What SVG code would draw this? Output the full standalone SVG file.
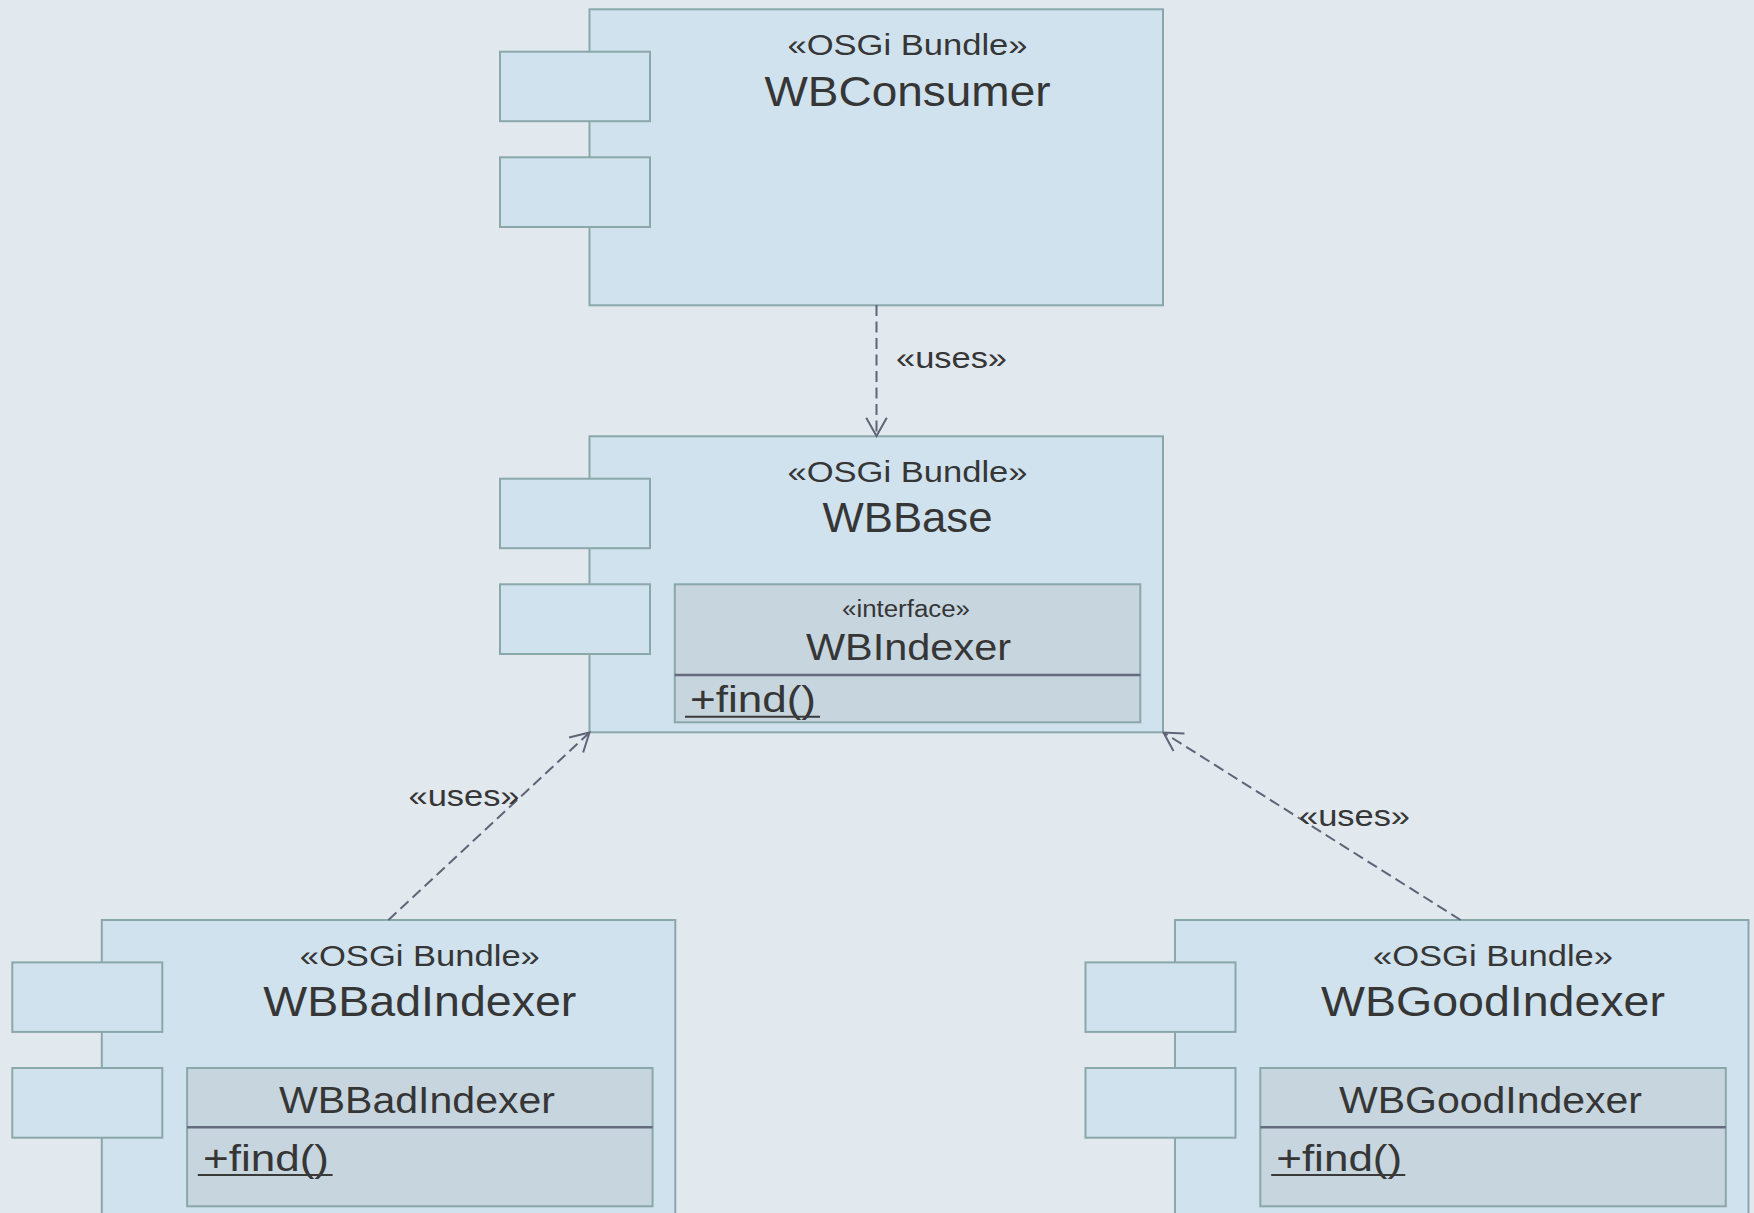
<svg xmlns="http://www.w3.org/2000/svg" width="1754" height="1213" viewBox="0 0 1754 1213">
  <style>
    .bundle { fill: #d0e2ed; stroke: #8aa7aa; stroke-width: 2; }
    .port { fill: #d0e2ed; stroke: #8aa7aa; stroke-width: 2; }
    .cls { fill: #c6d5de; stroke: #8aa7aa; stroke-width: 2; }
    .div { stroke: #646b7c; stroke-width: 2.5; }
    .ul { stroke: #3a3a3a; stroke-width: 2; }
    .t { font-family: "Liberation Sans", Arial, sans-serif; fill: #363636; }
    .stereo { font-size: 30px; text-anchor: middle; }
    .name { font-size: 43px; text-anchor: middle; }
    .cname { font-size: 36px; text-anchor: middle; }
    .iface { font-size: 23px; text-anchor: middle; }
    .op { font-size: 36px; }
    .lbl { font-size: 30px; }
    .dep { fill: none; stroke: #5f6577; stroke-width: 2; stroke-dasharray: 11 5.5; }
  </style>
  <defs>
    <marker id="open" markerUnits="userSpaceOnUse" viewBox="-20 -12 22 24" refX="0" refY="0" markerWidth="22" markerHeight="24" orient="auto">
      <path d="M-18.3,-10.3 L0,0 L-18.3,10.3" fill="none" stroke="#5f6577" stroke-width="2"/>
    </marker>
  </defs>

  <rect width="1754" height="1213" fill="#e1e8ee"/>

  <!-- WBConsumer bundle -->
  <g id="wbconsumer" transform="translate(589.5,9.3)">
    <rect class="bundle" x="0" y="0" width="573.5" height="296"/>
    <rect class="port" x="-89.5" y="42.4" width="150" height="69.5"/>
    <rect class="port" x="-89.5" y="148" width="150" height="69.7"/>
    <text class="t stereo" x="318" y="46" textLength="240" lengthAdjust="spacingAndGlyphs">«OSGi Bundle»</text>
    <text class="t name" x="318" y="96.5" textLength="286" lengthAdjust="spacingAndGlyphs">WBConsumer</text>
  </g>

  <!-- WBBase bundle with the WBIndexer interface -->
  <g id="wbbase" transform="translate(589.5,436.3)">
    <rect class="bundle" x="0" y="0" width="573.5" height="296"/>
    <rect class="port" x="-89.5" y="42.4" width="150" height="69.5"/>
    <rect class="port" x="-89.5" y="148" width="150" height="69.7"/>
    <text class="t stereo" x="318" y="46" textLength="240" lengthAdjust="spacingAndGlyphs">«OSGi Bundle»</text>
    <text class="t name" x="318" y="96" textLength="170" lengthAdjust="spacingAndGlyphs">WBBase</text>
    <g id="wbindexer">
      <rect class="cls" x="85.3" y="148" width="465.5" height="138"/>
      <line class="div" x1="85.3" y1="238.7" x2="550.8" y2="238.7"/>
      <text class="t iface" x="316.5" y="180.6" textLength="128" lengthAdjust="spacingAndGlyphs">«interface»</text>
      <text class="t cname" x="319" y="223.5" textLength="205" lengthAdjust="spacingAndGlyphs">WBIndexer</text>
      <text class="t op" x="100.5" y="275.4" textLength="126" lengthAdjust="spacingAndGlyphs">+find()</text>
      <line class="ul" x1="95.5" y1="280.4" x2="230.5" y2="280.4"/>
    </g>
  </g>

  <!-- WBBadIndexer bundle -->
  <g id="wbbadindexer" transform="translate(101.8,920)">
    <rect class="bundle" x="0" y="0" width="573.5" height="310"/>
    <rect class="port" x="-89.5" y="42.4" width="150" height="69.5"/>
    <rect class="port" x="-89.5" y="148" width="150" height="69.7"/>
    <text class="t stereo" x="318" y="46.3" textLength="240" lengthAdjust="spacingAndGlyphs">«OSGi Bundle»</text>
    <text class="t name" x="318" y="96" textLength="313" lengthAdjust="spacingAndGlyphs">WBBadIndexer</text>
    <g id="wbbadindexer-class">
      <rect class="cls" x="85.3" y="148" width="465.5" height="138.3"/>
      <line class="div" x1="85.3" y1="207.2" x2="550.8" y2="207.2"/>
      <text class="t cname" x="315.2" y="192.7" textLength="276" lengthAdjust="spacingAndGlyphs">WBBadIndexer</text>
      <text class="t op" x="101.2" y="250.7" textLength="126" lengthAdjust="spacingAndGlyphs">+find()</text>
      <line class="ul" x1="96" y1="255" x2="230.8" y2="255"/>
    </g>
  </g>

  <!-- WBGoodIndexer bundle -->
  <g id="wbgoodindexer" transform="translate(1175,920)">
    <rect class="bundle" x="0" y="0" width="573.5" height="310"/>
    <rect class="port" x="-89.5" y="42.4" width="150" height="69.5"/>
    <rect class="port" x="-89.5" y="148" width="150" height="69.7"/>
    <text class="t stereo" x="318" y="46.3" textLength="240" lengthAdjust="spacingAndGlyphs">«OSGi Bundle»</text>
    <text class="t name" x="318" y="96" textLength="344" lengthAdjust="spacingAndGlyphs">WBGoodIndexer</text>
    <g id="wbgoodindexer-class">
      <rect class="cls" x="85.3" y="148" width="465.5" height="138.3"/>
      <line class="div" x1="85.3" y1="207.2" x2="550.8" y2="207.2"/>
      <text class="t cname" x="315.5" y="192.7" textLength="303" lengthAdjust="spacingAndGlyphs">WBGoodIndexer</text>
      <text class="t op" x="101.2" y="250.7" textLength="126" lengthAdjust="spacingAndGlyphs">+find()</text>
      <line class="ul" x1="96.2" y1="255" x2="230.3" y2="255"/>
    </g>
  </g>

  <!-- «uses» dependencies -->
  <g id="connectors">
    <path class="dep" d="M876.5,305 L876.5,436" marker-end="url(#open)"/>
    <path class="dep" d="M388.4,920 L589.5,732.5" marker-end="url(#open)"/>
    <path class="dep" d="M1460.6,920 L1163.5,732.5" marker-end="url(#open)"/>
    <text class="t lbl" x="896" y="368" textLength="111" lengthAdjust="spacingAndGlyphs">«uses»</text>
    <text class="t lbl" x="408.5" y="806" textLength="111" lengthAdjust="spacingAndGlyphs">«uses»</text>
    <text class="t lbl" x="1299" y="826" textLength="111" lengthAdjust="spacingAndGlyphs">«uses»</text>
  </g>
</svg>
